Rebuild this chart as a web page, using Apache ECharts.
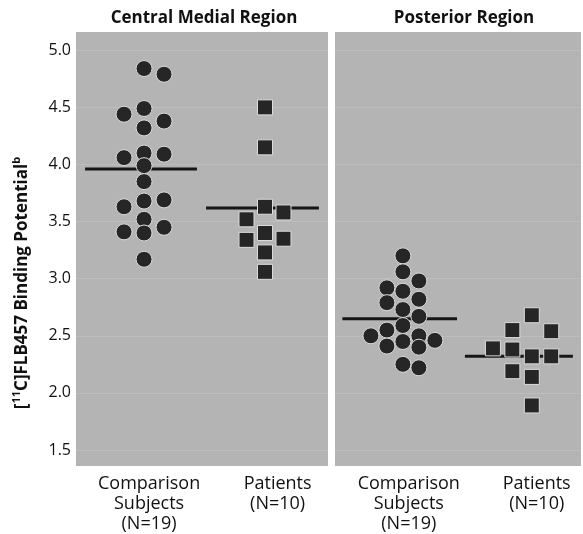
<!DOCTYPE html>
<html>
<head>
<meta charset="utf-8">
<script src="https://cdn.jsdelivr.net/npm/echarts@6/dist/echarts.min.js"></script>
<style>
  html, body { margin: 0; padding: 0; background: #ffffff; }
  #chart { width: 583px; height: 534px; }
</style>
</head>
<body>
<div id="chart"></div>
<script>
// [11C]FLB457 binding potential, one value per subject
const regionTitles = ['Central Medial Region', 'Posterior Region'];
const groupLabels = ['Comparison\nSubjects\n(N=19)', 'Patients\n(N=10)'];
const yTicks = [1.5, 2.0, 2.5, 3.0, 3.5, 4.0, 4.5, 5.0];

const centralComparison = [4.84, 4.79, 4.44, 4.49, 4.38, 4.32, 4.06, 4.10, 4.09, 3.99,
                           3.85, 3.63, 3.68, 3.69, 3.52, 3.45, 3.41, 3.40, 3.17];
const centralPatients = [4.50, 4.15, 3.63, 3.58, 3.52, 3.40, 3.34, 3.35, 3.23, 3.06];
const posteriorComparison = [3.20, 3.06, 2.92, 2.89, 2.98, 2.79, 2.73, 2.82, 2.67, 2.59,
                             2.50, 2.55, 2.50, 2.46, 2.41, 2.45, 2.40, 2.25, 2.22];
const posteriorPatients = [2.68, 2.55, 2.54, 2.39, 2.38, 2.32, 2.32, 2.19, 2.14, 1.89];

// group means drawn as horizontal bars: [comparison, patients] per region
const centralMeans = [3.96, 3.62];
const posteriorMeans = [2.65, 2.32];

// dot-plot column for each point (0 = centre column of its group)
const centralComparisonCols = [0, 1, -1, 0, 1, 0, -1, 0, 1, 0, 0, -1, 0, 1, 0, 1, -1, 0, 0];
const centralPatientsCols = [0, 0, 0, 1, -1, 0, -1, 1, 0, 0];
const posteriorComparisonCols = [0, 0, -1, 0, 1, -1, 0, 1, 1, 0, -2, -1, 1, 2, -1, 0, 1, 0, 1];
const posteriorPatientsCols = [0, -1, 1, -2, -1, 0, 1, -1, 0, 0];

// panel layout (x axis runs 0..1 across each panel)
const panels = [
  { grid: { left: 76, right: 255, top: 32, bottom: 68 },
    centers: [0.27, 0.75], steps: [0.0794, 0.0734], labelAt: [0.29, 0.80],
    meanSpan: [[0.036, 0.48], [0.516, 0.964]],
    values: [centralComparison, centralPatients],
    cols: [centralComparisonCols, centralPatientsCols],
    means: centralMeans, title: regionTitles[0], titleX: 199 },
  { grid: { left: 335, right: 2, top: 32, bottom: 68 },
    centers: [0.276, 0.80], steps: [0.065, 0.079], labelAt: [0.30, 0.82],
    meanSpan: [[0.03, 0.496], [0.528, 0.967]],
    values: [posteriorComparison, posteriorPatients],
    cols: [posteriorComparisonCols, posteriorPatientsCols],
    means: posteriorMeans, title: regionTitles[1], titleX: 459 }
];

const FONT = '"Open Sans", "Noto Sans", sans-serif';
const Y_MIN = 1.36, Y_MAX = 5.16;
const symbols = ['circle', 'rect'];
const symbolSizes = [16, 15];

const grids = [], xAxes = [], yAxes = [], series = [], titles = [];

panels.forEach((p, i) => {
  grids.push(Object.assign({ show: true, backgroundColor: '#b4b4b4', borderWidth: 0 }, p.grid));
  titles.push({
    text: p.title, left: p.titleX, top: 5, textAlign: 'center',
    textStyle: { fontFamily: FONT, fontSize: 17, fontWeight: 'bold', color: '#111' }
  });
  xAxes.push({
    type: 'value', gridIndex: i, min: 0, max: 1,
    axisLine: { show: false }, axisTick: { show: false }, splitLine: { show: false },
    axisLabel: {
      customValues: p.labelAt,
      formatter: (v) => groupLabels[p.labelAt.indexOf(v)],
      fontFamily: FONT, fontSize: 18, color: '#111', lineHeight: 20,
      margin: 8, verticalAlign: 'top'
    }
  });
  yAxes.push({
    type: 'value', gridIndex: i, min: Y_MIN, max: Y_MAX,
    axisLine: { show: false },
    axisTick: { show: false, customValues: yTicks },
    splitLine: { show: true, lineStyle: { color: '#bdbdbd', width: 1 } },
    axisLabel: {
      show: i === 0, customValues: yTicks,
      formatter: (v) => v.toFixed(1),
      fontFamily: FONT, fontSize: 16, color: '#111', margin: 5
    }
  });

  // mean bars (drawn beneath the points)
  [0, 1].forEach((g) => {
    series.push({
      type: 'line', xAxisIndex: i, yAxisIndex: i, silent: true, symbol: 'none',
      lineStyle: { color: '#161616', width: 3 }, z: 1,
      data: [[p.meanSpan[g][0], p.means[g]], [p.meanSpan[g][1], p.means[g]]]
    });
  });

  // individual subjects
  [0, 1].forEach((g) => {
    series.push({
      type: 'scatter', xAxisIndex: i, yAxisIndex: i, z: 3,
      symbol: symbols[g], symbolSize: symbolSizes[g],
      itemStyle: { color: '#262626', borderColor: '#dcdcdc', borderWidth: 1, opacity: 1 },
      data: p.values[g].map((v, k) => [p.centers[g] + p.cols[g][k] * p.steps[g], v])
    });
  });
});

const chart = echarts.init(document.getElementById('chart'), null, { renderer: 'canvas' });
chart.setOption({
  animation: false,
  backgroundColor: '#ffffff',
  title: titles,
  grid: grids,
  xAxis: xAxes,
  yAxis: yAxes,
  series: series,
  graphic: [{
    type: 'text', x: 22, y: 283, rotation: Math.PI / 2,
    style: {
      text: '[{s|11}C]FLB457 Binding Potential{s|b}',
      fontFamily: FONT, fontSize: 17, fontWeight: 'bold', fill: '#111',
      align: 'center', verticalAlign: 'middle',
      rich: { s: { fontFamily: FONT, fontSize: 11, fontWeight: 'bold', verticalAlign: 'top', lineHeight: 22 } }
    }
  }]
});
</script>
</body>
</html>
